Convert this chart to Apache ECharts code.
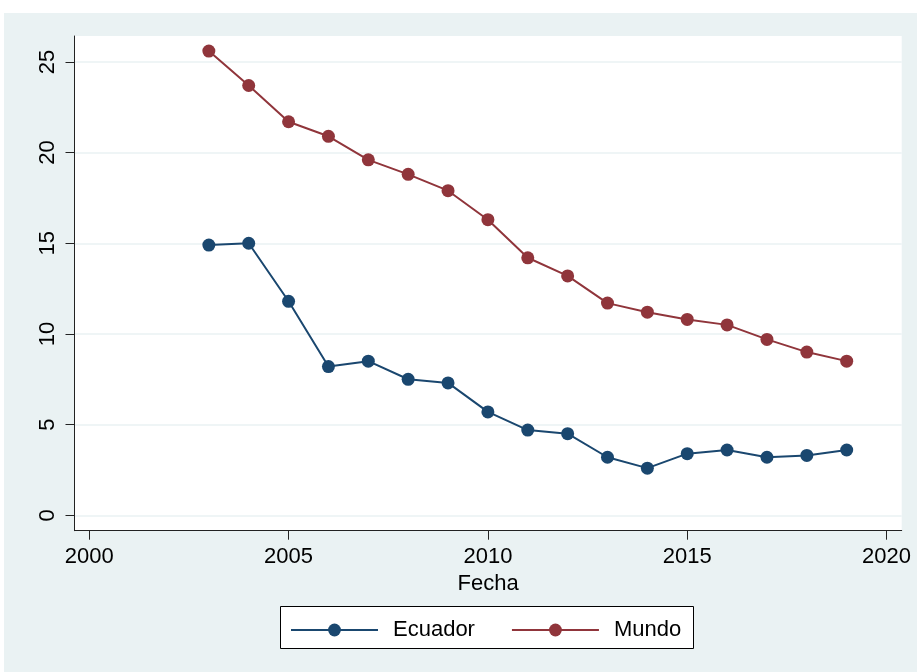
<!DOCTYPE html>
<html>
<head>
<meta charset="utf-8">
<script src="https://cdn.jsdelivr.net/npm/echarts@6/dist/echarts.min.js"></script>
<style>
  html, body { margin: 0; padding: 0; background: #ffffff; }
  #chart { width: 917px; height: 672px; }
</style>
</head>
<body>
<div id="chart"></div>
<script>
const years = [2003, 2004, 2005, 2006, 2007, 2008, 2009, 2010, 2011, 2012, 2013, 2014, 2015, 2016, 2017, 2018, 2019];
const ecuador = [14.9, 15.0, 11.8, 8.2, 8.5, 7.5, 7.3, 5.7, 4.7, 4.5, 3.2, 2.6, 3.4, 3.6, 3.2, 3.3, 3.6];
const mundo = [25.6, 23.7, 21.7, 20.9, 19.6, 18.8, 17.9, 16.3, 14.2, 13.2, 11.7, 11.2, 10.8, 10.5, 9.7, 9.0, 8.5];
const xTicks = [2000, 2005, 2010, 2015, 2020];
const yTicks = [0, 5, 10, 15, 20, 25];
const xTitle = 'Fecha';
const seriesNames = ['Ecuador', 'Mundo'];

const navy = '#1A476F';
const maroon = '#90353B';
const bg = '#EAF2F3';
const font = '"Liberation Sans", Arial, Helvetica, sans-serif';

const chart = echarts.init(document.getElementById('chart'), null, { renderer: 'canvas' });

function pairs(vals) { return years.map((y, i) => [y, vals[i]]); }

const option = {
  animation: false,
  graphic: [
    { type: 'rect', z: -10, shape: { x: 4, y: 13, width: 913, height: 659 }, style: { fill: bg } },
    { type: 'rect', z: -5, shape: { x: 280.5, y: 606.5, width: 413, height: 42 }, style: { fill: '#ffffff', stroke: '#000000', lineWidth: 1 } }
  ],
  grid: {
    left: 74.5, top: 36, right: 15.3, bottom: 141.3,
    show: true, backgroundColor: '#ffffff', borderWidth: 0
  },
  xAxis: {
    type: 'value',
    min: 1999.63, max: 2020.38,
    name: xTitle,
    nameLocation: 'middle',
    nameGap: 37,
    nameTextStyle: { fontFamily: font, fontSize: 22, color: '#000' },
    axisLine: { show: true, onZero: false, lineStyle: { color: '#222', width: 1 } },
    axisTick: { show: true, length: 9, inside: false, customValues: xTicks, lineStyle: { color: '#222', width: 1 } },
    axisLabel: { customValues: xTicks, margin: 15, fontFamily: font, fontSize: 22, color: '#000', formatter: v => String(v) },
    splitLine: { show: false }
  },
  yAxis: {
    type: 'value',
    min: -0.85, max: 26.43,
    axisLine: { show: true, onZero: false, lineStyle: { color: '#222', width: 1 } },
    axisTick: { show: true, length: 9, inside: false, customValues: yTicks, lineStyle: { color: '#222', width: 1 } },
    axisLabel: { customValues: yTicks, rotate: 90, margin: 16, fontFamily: font, fontSize: 22, color: '#000', formatter: v => String(v) },
    splitLine: { show: true, lineStyle: { color: bg, width: 1.5 } }
  },
  legend: {
    left: 290, top: 619,
    orient: 'horizontal',
    itemWidth: 87, itemHeight: 16,
    itemGap: 36,
    padding: 0,
    textStyle: { fontFamily: font, fontSize: 22, color: '#000', padding: [0, 0, 0, 10] },
    data: seriesNames
  },
  series: [
    {
      name: seriesNames[0], type: 'line', data: pairs(ecuador),
      symbol: 'circle', symbolSize: 13,
      lineStyle: { color: navy, width: 2 },
      itemStyle: { color: navy },
      emphasis: { disabled: true }
    },
    {
      name: seriesNames[1], type: 'line', data: pairs(mundo),
      symbol: 'circle', symbolSize: 13,
      lineStyle: { color: maroon, width: 2 },
      itemStyle: { color: maroon },
      emphasis: { disabled: true }
    }
  ]
};
chart.setOption(option);
</script>
</body>
</html>
